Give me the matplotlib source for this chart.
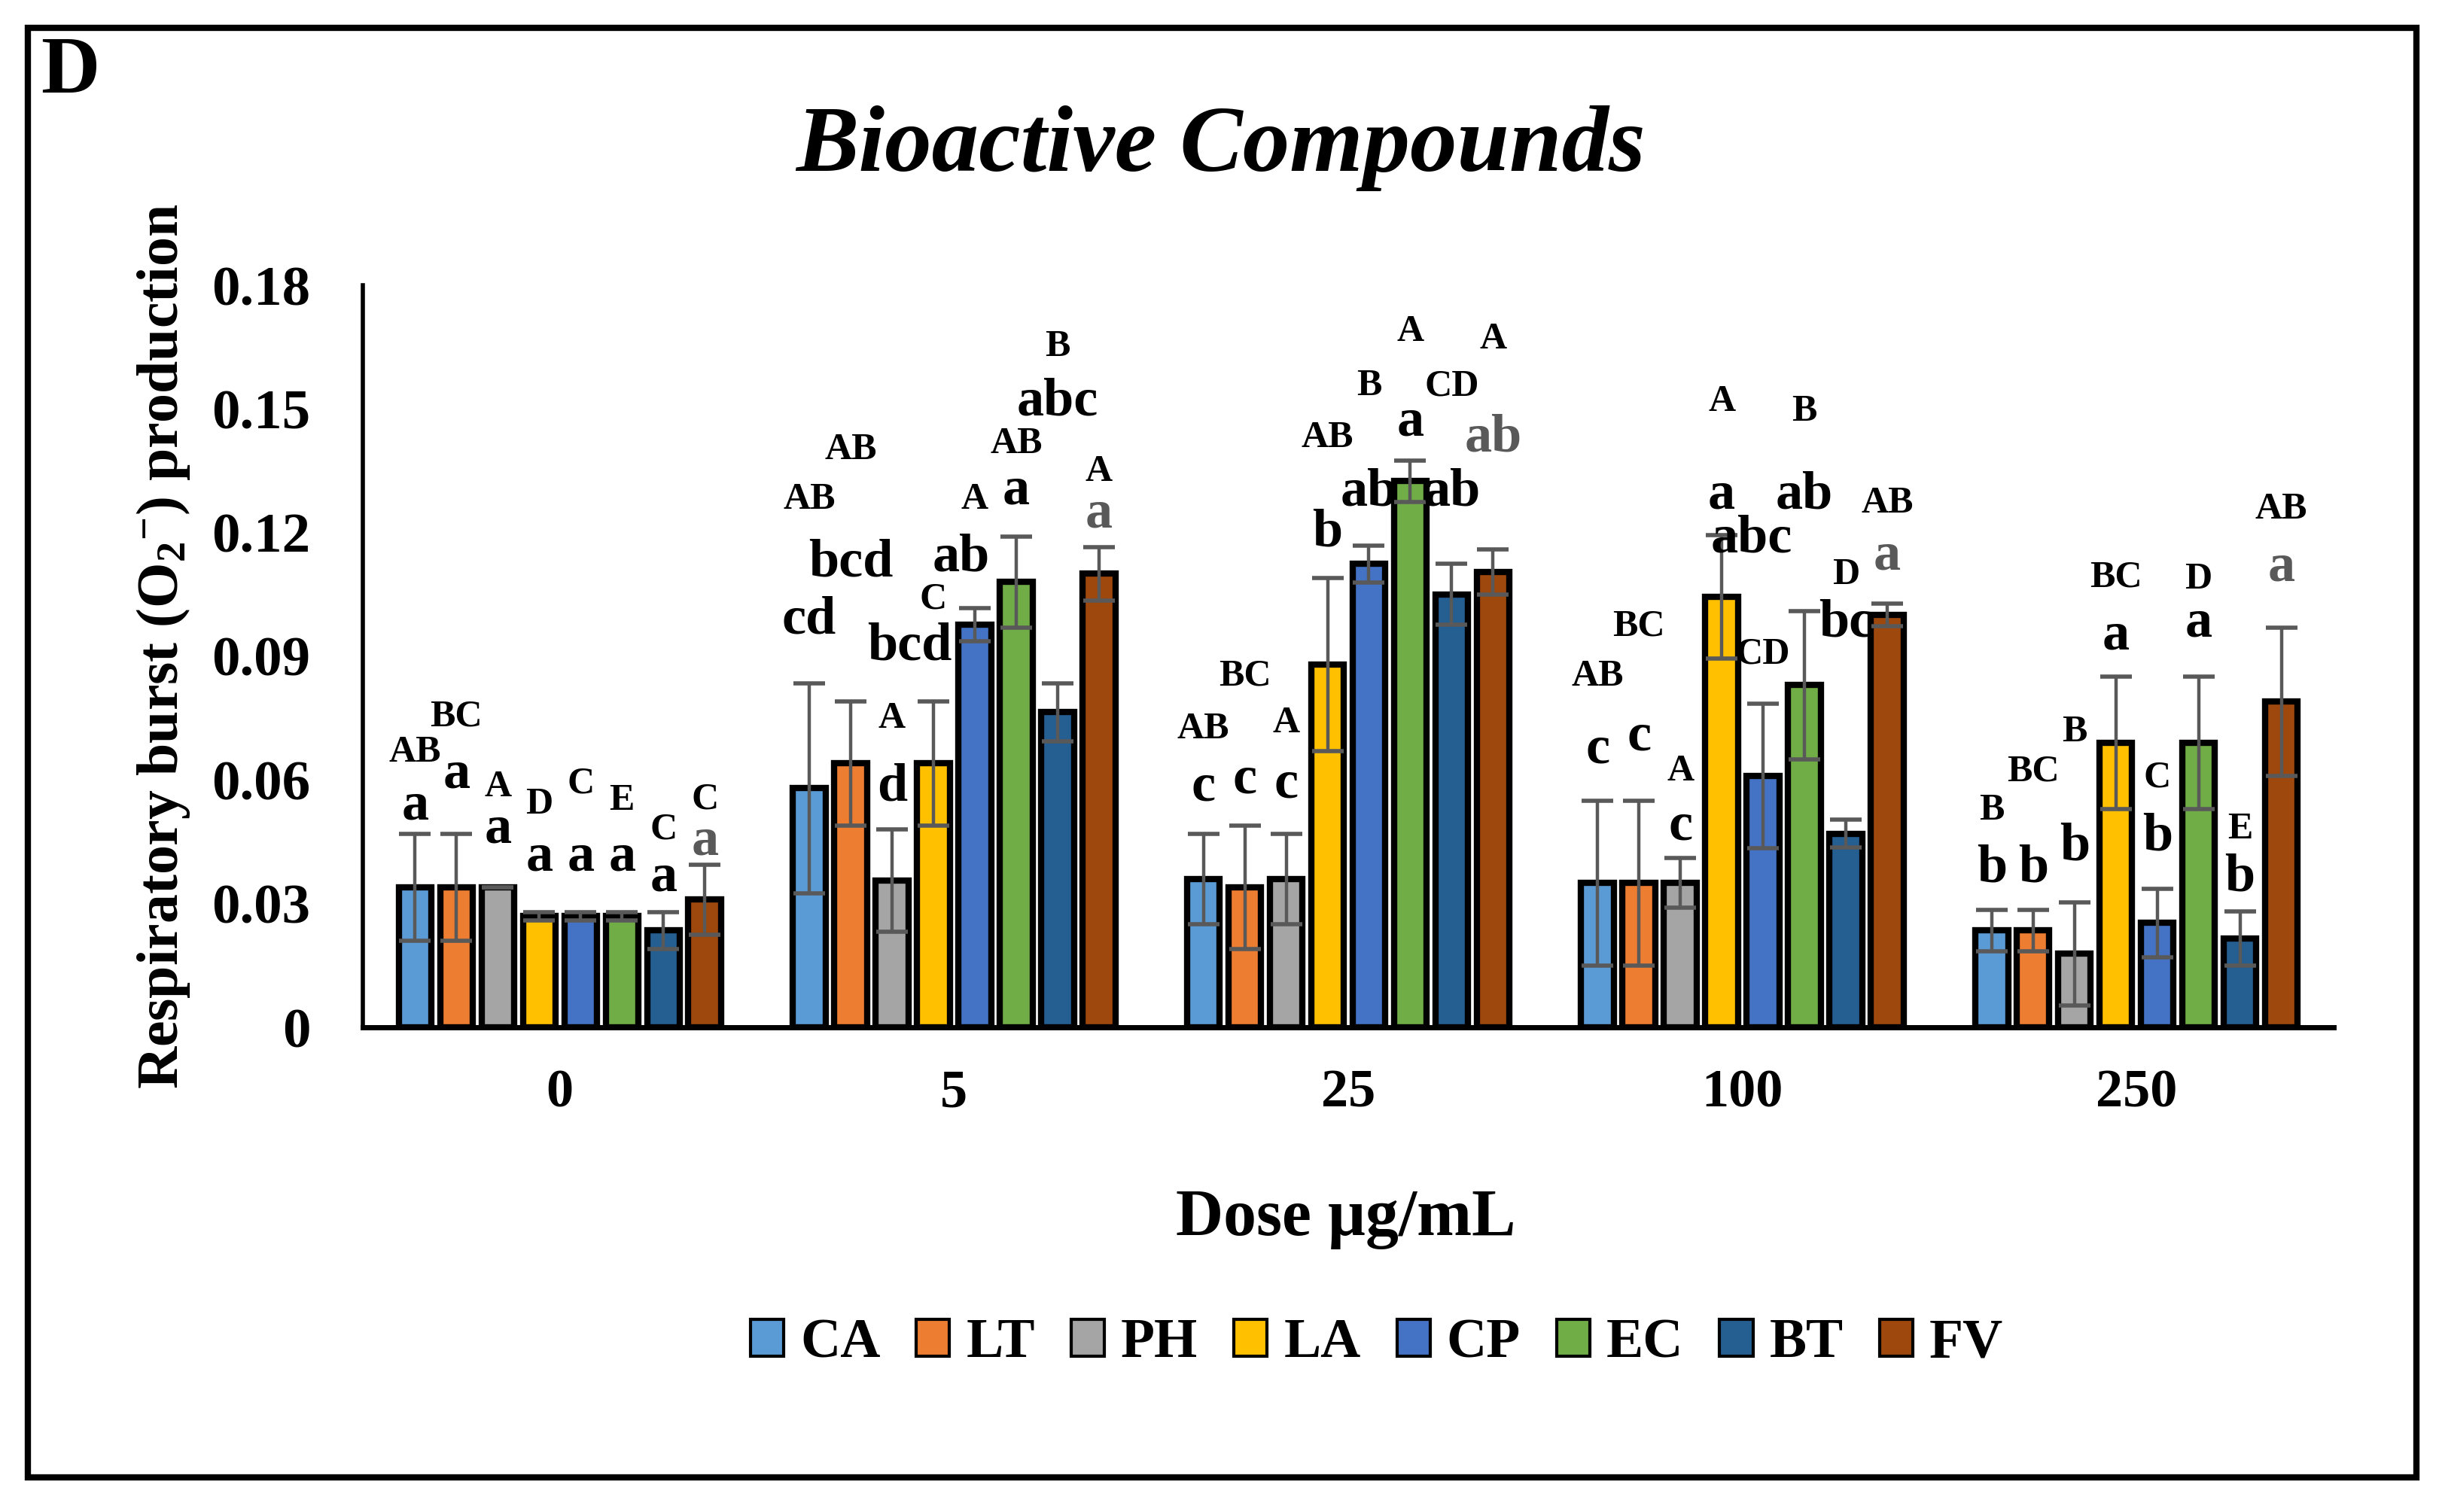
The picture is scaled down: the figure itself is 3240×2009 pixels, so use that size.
import matplotlib
matplotlib.use("Agg")
import matplotlib.pyplot as plt
from matplotlib.patches import Rectangle, Patch
import numpy as np

# ---------------- data ----------------
doses = ["0", "5", "25", "100", "250"]
compounds = ["CA", "LT", "PH", "LA", "CP", "EC", "BT", "FV"]

CA = [0.034, 0.058, 0.036, 0.035, 0.0235]
LT = [0.034, 0.064, 0.034, 0.035, 0.0235]
PH = [0.034, 0.0356, 0.036, 0.035, 0.0178]
LA = [0.027, 0.064, 0.088, 0.1044, 0.069]
CP = [0.027, 0.0976, 0.1124, 0.061, 0.0253]
EC = [0.027, 0.108, 0.1325, 0.083, 0.069]
BT = [0.0235, 0.0764, 0.105, 0.047, 0.0216]
FV = [0.031, 0.110, 0.1105, 0.100, 0.079]

CA_err = [0.013, 0.0255, 0.011, 0.020, 0.005]
LT_err = [0.013, 0.015, 0.015, 0.020, 0.005]
PH_err = [0.0, 0.0125, 0.011, 0.006, 0.0125]
LA_err = [0.001, 0.015, 0.021, 0.015, 0.016]
CP_err = [0.001, 0.004, 0.0045, 0.0175, 0.0083]
EC_err = [0.001, 0.011, 0.005, 0.018, 0.016]
BT_err = [0.0045, 0.007, 0.0074, 0.0034, 0.0066]
FV_err = [0.0085, 0.0065, 0.0055, 0.0027, 0.018]

values = [CA, LT, PH, LA, CP, EC, BT, FV]
errors = [CA_err, LT_err, PH_err, LA_err, CP_err, EC_err, BT_err, FV_err]

# significance letters: rows = compounds, columns = doses
upper_letters = [
    ["AB", "AB", "AB", "AB", "B"],
    ["BC", "AB", "BC", "BC", "BC"],
    ["A", "A", "A", "A", "B"],
    ["D", "C", "AB", "A", "BC"],
    ["C", "A", "B", "CD", "C"],
    ["E", "AB", "A", "B", "D"],
    ["C", "B", "CD", "D", "E"],
    ["C", "A", "A", "AB", "AB"],
]
lower_letters = [
    ["a", "cd", "c", "c", "b"],
    ["a", "bcd", "c", "c", "b"],
    ["a", "d", "c", "c", "b"],
    ["a", "bcd", "b", "a", "a"],
    ["a", "ab", "ab", "abc", "b"],
    ["a", "a", "a", "ab", "a"],
    ["a", "abc", "ab", "bc", "b"],
    ["a", "a", "ab", "a", "a"],
]

# annotation layout (label heights in data units)
upper_y = [
    [0.0666, 0.1279, 0.0723, 0.0851, 0.0526],
    [0.0753, 0.1400, 0.0851, 0.0972, 0.0620],
    [0.0583, 0.0749, 0.0738, 0.0620, 0.0715],
    [0.0541, 0.1037, 0.1430, 0.1517, 0.1090],
    [0.0590, 0.1279, 0.1555, 0.0904, 0.0605],
    [0.0549, 0.1415, 0.1687, 0.1494, 0.1086],
    [0.0480, 0.1650, 0.1555, 0.1097, 0.0480],
    [0.0552, 0.1347, 0.1668, 0.1271, 0.1256],
]
lower_y = [
    [0.0537, 0.0987, 0.0583, 0.0673, 0.0386],
    [0.0613, 0.1127, 0.0601, 0.0704, 0.0386],
    [0.0480, 0.0583, 0.0590, 0.0488, 0.0439],
    [0.0412, 0.0923, 0.1200, 0.1290, 0.0950],
    [0.0412, 0.1139, 0.1298, 0.1184, 0.0462],
    [0.0412, 0.1301, 0.1468, 0.1290, 0.0980],
    [0.0363, 0.1517, 0.1298, 0.0980, 0.0363],
    [0.0450, 0.1245, 0.1430, 0.1142, 0.1116],
]
lower_dx = {(3, 1): -0.06, (4, 1): -0.035, (4, 3): -0.03}

colors = ["#5B9BD5", "#ED7D31", "#A5A5A5", "#FFC000",
          "#4472C4", "#70AD47", "#255E91", "#9E480E"]

# ---------------- figure ----------------
SERIF = ["Liberation Serif", "DejaVu Serif"]
plt.rcParams["font.family"] = SERIF
plt.rcParams["font.weight"] = "bold"
plt.rcParams["mathtext.fontset"] = "custom"
plt.rcParams["mathtext.rm"] = "Liberation Serif:bold"
plt.rcParams["mathtext.bf"] = "Liberation Serif:bold"
plt.rcParams["mathtext.default"] = "bf"

W, H = 3241, 2009
fig = plt.figure(figsize=(W / 100, H / 100), dpi=100)
ax = fig.add_axes([482 / W, 1 - 1365 / H, (3100 - 482) / W, (1365 - 379) / H])

x = np.arange(len(doses))
slot = 0.105
bw = 0.083
for i, (vals, errs) in enumerate(zip(values, errors)):
    pos = x + (i - 3.5) * slot
    ax.bar(pos, vals, width=bw, color=colors[i], edgecolor="black",
           linewidth=6, zorder=2)
    ax.errorbar(pos, vals, yerr=errs, fmt="none", ecolor="#595959",
                elinewidth=3.2, capsize=15, capthick=4, zorder=3)
    for j in range(len(doses)):
        ax.text(pos[j], upper_y[i][j], upper_letters[i][j], ha="center",
                va="center", fontsize=36, fontweight="bold", color="black",
                fontfamily=SERIF, zorder=4)
        lc = "#595959" if i == 7 else "black"
        ax.text(pos[j] + lower_dx.get((i, j), 0.0), lower_y[i][j],
                lower_letters[i][j], ha="center", va="center", fontsize=52,
                fontweight="bold", color=lc, fontfamily=SERIF, zorder=4)

ax.set_xlim(-0.5, 4.5)
ax.set_ylim(0, 0.18)
ax.set_yticks([0, 0.03, 0.06, 0.09, 0.12, 0.15, 0.18])
ax.set_yticklabels(["0", "0.03", "0.06", "0.09", "0.12", "0.15", "0.18"])
ax.set_xticks(x)
ax.set_xticklabels(doses)
ax.tick_params(axis="y", length=0, pad=50, labelsize=54)
ax.tick_params(axis="x", length=0, pad=40, labelsize=52)
for lab in ax.get_xticklabels() + ax.get_yticklabels():
    lab.set_fontweight("bold")
for s in ["top", "right"]:
    ax.spines[s].set_visible(False)
ax.spines["left"].set_linewidth(4)
ax.spines["bottom"].set_linewidth(5)

# texts
fig.text(1621 / W, 1 - 197 / H, "Bioactive Compounds", ha="center",
         va="center", fontsize=90, fontweight="bold", fontstyle="italic")
fig.text(93 / W, 1 - 97 / H, "D", ha="center", va="center", fontsize=78,
         fontweight="bold")
fig.text(1788 / W, 1 - 1620 / H, "Dose µg/mL", ha="center", va="center",
         fontsize=63, fontweight="bold")
fig.text(217 / W, 1 - 859 / H, r"Respiratory burst (O$_{2}$$^{-}$) production",
         ha="center", va="center", rotation=90, fontsize=56,
         fontweight="bold")

handles = [Patch(facecolor=c, edgecolor="black", linewidth=3) for c in colors]
fig.legend(handles, compounds, loc="center", bbox_to_anchor=(1829 / W, 1 - 1785 / H),
           ncol=8, frameon=False, handlelength=0.6,
           handleheight=0.65, handletextpad=0.3, columnspacing=0.65,
           prop={"family": SERIF, "weight": "bold", "size": 53})

fig.add_artist(Rectangle((37 / W, 1 - 1963 / H), (3210 - 37) / W,
                         (1963 - 37) / H, transform=fig.transFigure,
                         fill=False, edgecolor="black", linewidth=6))

fig.savefig("out.png", dpi=100, facecolor="white")
